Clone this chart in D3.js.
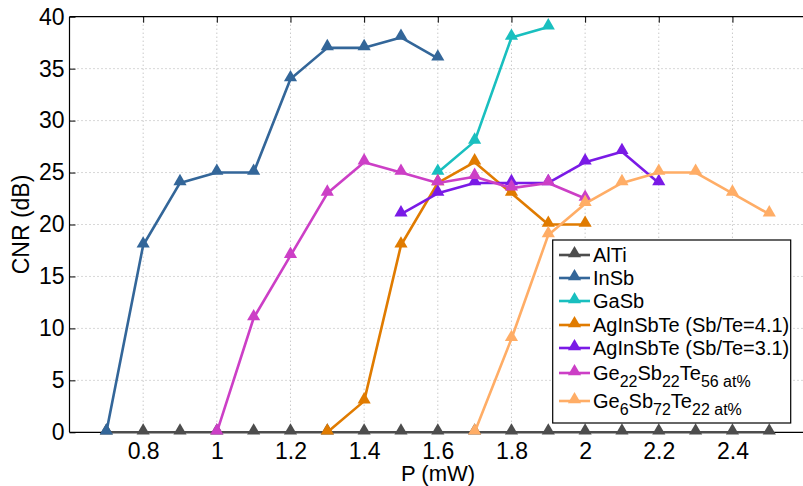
<!DOCTYPE html>
<html><head><meta charset="utf-8">
<script src="https://cdn.jsdelivr.net/npm/d3@7"></script>
<style>body{margin:0;background:#fff}svg{display:block}text{font-family:"Liberation Sans",Arial,sans-serif}</style>
</head><body><svg id="c" width="803" height="486"></svg>
<script>
const xTicks = [0.8, 1.0, 1.2, 1.4, 1.6, 1.8, 2.0, 2.2, 2.4];
const xTickLabels = ["0.8", "1", "1.2", "1.4", "1.6", "1.8", "2", "2.2", "2.4"];
const yTicks = [0, 5, 10, 15, 20, 25, 30, 35, 40];

const altiP = [0.7,0.8,0.9,1.0,1.1,1.2,1.3,1.4,1.5,1.6,1.7,1.8,1.9,2.0,2.1,2.2,2.3,2.4,2.5];
const altiV = [0,0,0,0,0,0,0,0,0,0,0,0,0,0,0,0,0,0,0];
const insbP = [0.7,0.8,0.9,1.0,1.1,1.2,1.3,1.4,1.5,1.6];
const insbV = [0,18,24,25,25,34,37,37,38,36];
const gasbP = [1.6,1.7,1.8,1.9];
const gasbV = [25,28,38,39];
const aist41P = [1.3,1.4,1.5,1.6,1.7,1.8,1.9,2.0];
const aist41V = [0,3,18,24,26,23,20,20];
const aist31P = [1.5,1.6,1.7,1.8,1.9,2.0,2.1,2.2];
const aist31V = [21,23,24,24,24,26,27,24];
const gst22P = [1.0,1.1,1.2,1.3,1.4,1.5,1.6,1.7,1.8,1.9,2.0];
const gst22V = [0,11,17,23,26,25,24,24.6,23.5,24,22.5];
const gst6P = [1.7,1.8,1.9,2.0,2.1,2.2,2.3,2.4,2.5];
const gst6V = [0,9,19,22,24,25,25,23,21];

const series = [
  {name:"AlTi", p:altiP, v:altiV, color:"#4d4d4d"},
  {name:"InSb", p:insbP, v:insbV, color:"#336699"},
  {name:"GaSb", p:gasbP, v:gasbV, color:"#19bfbf"},
  {name:"AgInSbTe (Sb/Te=4.1)", p:aist41P, v:aist41V, color:"#e07b00"},
  {name:"AgInSbTe (Sb/Te=3.1)", p:aist31P, v:aist31V, color:"#7a1ae6"},
  {name:"Ge22Sb22Te56", p:gst22P, v:gst22V, color:"#cc3fc6", sub:[["Ge",""],["22","s"],["Sb",""],["22","s"],["Te",""],["56 at%","s"]]},
  {name:"Ge6Sb72Te22", p:gst6P, v:gst6V, color:"#ffad66", sub:[["Ge",""],["6","s"],["Sb",""],["72","s"],["Te",""],["22 at%","s"]]}
];

const svg = d3.select("#c");
const L = 69.5, T = 16.7, B = 432.3;
const x = d3.scaleLinear().domain([0.6, 2.6]).range([L, L + 2*368.3]);
const y = d3.scaleLinear().domain([0, 40]).range([B, T]);
const FF = "'Liberation Sans', Arial, sans-serif";

// grid
const g = svg.append("g");
g.selectAll(".vg").data(xTicks).join("line")
  .attr("x1", d=>x(d)).attr("x2", d=>x(d)).attr("y1", T).attr("y2", B)
  .attr("stroke", "#b0b0b0").attr("stroke-width", 1).attr("stroke-dasharray", "1,3");
g.selectAll(".hg").data(yTicks.slice(1, -1)).join("line")
  .attr("x1", L).attr("x2", 803).attr("y1", d=>y(d)).attr("y2", d=>y(d))
  .attr("stroke", "#b0b0b0").attr("stroke-width", 1).attr("stroke-dasharray", "1,3");

// axes
const xAxis = d3.axisBottom(x).tickValues(xTicks).tickFormat((d,i)=>xTickLabels[i]).tickSizeInner(-5).tickSizeOuter(0).tickPadding(10);
const ax = svg.append("g").attr("transform", `translate(0,${B})`).call(xAxis);
ax.attr("font-family", FF).attr("font-size", 23);
ax.select(".domain").remove();
ax.selectAll("text").attr("fill", "#000");
ax.selectAll("line").attr("stroke", "#000");
const xTop = d3.axisTop(x).tickValues(xTicks).tickFormat("").tickSizeInner(-6).tickSizeOuter(0);
const axT = svg.append("g").attr("transform", `translate(0,${T})`).call(xTop);
axT.select(".domain").remove();
axT.selectAll("line").attr("stroke", "#000");

const yAxis = d3.axisLeft(y).tickValues(yTicks).tickSizeInner(-6).tickSizeOuter(0).tickPadding(5);
const ay = svg.append("g").attr("transform", `translate(${L},0)`).call(yAxis);
ay.attr("font-family", FF).attr("font-size", 23);
ay.select(".domain").remove();
ay.selectAll("text").attr("fill", "#000");
ay.selectAll("line").attr("stroke", "#000");

svg.append("line").attr("x1", L).attr("x2", 803).attr("y1", T).attr("y2", T).attr("stroke", "#000").attr("stroke-width", 1.2);
svg.append("line").attr("x1", L).attr("x2", 803).attr("y1", B).attr("y2", B).attr("stroke", "#000").attr("stroke-width", 1.2);
svg.append("line").attr("x1", L).attr("x2", L).attr("y1", T).attr("y2", B).attr("stroke", "#000").attr("stroke-width", 1.2);

svg.append("text").attr("x", 438).attr("y", 481).attr("text-anchor", "middle").attr("font-size", 22).text("P (mW)");
svg.append("text").attr("transform", `translate(29,${(T+B)/2}) rotate(-90)`).attr("text-anchor", "middle").attr("font-size", 23).text("CNR (dB)");

// series
const line = d3.line().x(d=>x(d[0])).y(d=>y(d[1]));
const tri = d3.symbol().type(d3.symbolTriangle).size(75);
series.forEach(s => {
  const pts = s.p.map((p,i)=>[p, s.v[i]]);
  const gs = svg.append("g");
  gs.append("path").attr("d", line(pts)).attr("fill", "none").attr("stroke", s.color).attr("stroke-width", 2.6).attr("stroke-linejoin", "round");
  gs.selectAll("path.m").data(pts).join("path").attr("class", "m")
    .attr("d", tri).attr("transform", d=>`translate(${x(d[0])},${y(d[1])-1.5})`).attr("fill", s.color);
});

// legend
const lg = svg.append("g");
lg.append("rect").attr("x", 552.7).attr("y", 240).attr("width", 238).attr("height", 183).attr("fill", "#fff").attr("stroke", "#000").attr("stroke-width", 1.2);
const rowY = [255, 278, 301, 325, 348, 373, 401];
series.forEach((s, i) => {
  const yy = rowY[i];
  lg.append("line").attr("x1", 559).attr("x2", 590).attr("y1", yy).attr("y2", yy).attr("stroke", s.color).attr("stroke-width", 2.6);
  lg.append("path").attr("d", tri).attr("transform", `translate(574.5,${yy-1.5})`).attr("fill", s.color);
  const t = lg.append("text").attr("x", 593).attr("y", yy + 7).attr("font-size", 20);
  if (s.sub) {
    s.sub.forEach(([txt, k]) => {
      t.append("tspan").attr("dy", k === "s" ? 7 : -7).attr("font-size", k === "s" ? 16 : 20).text(txt);
    });
    t.attr("y", yy + 14);
  } else t.text(s.name);
});
</script></body></html>
